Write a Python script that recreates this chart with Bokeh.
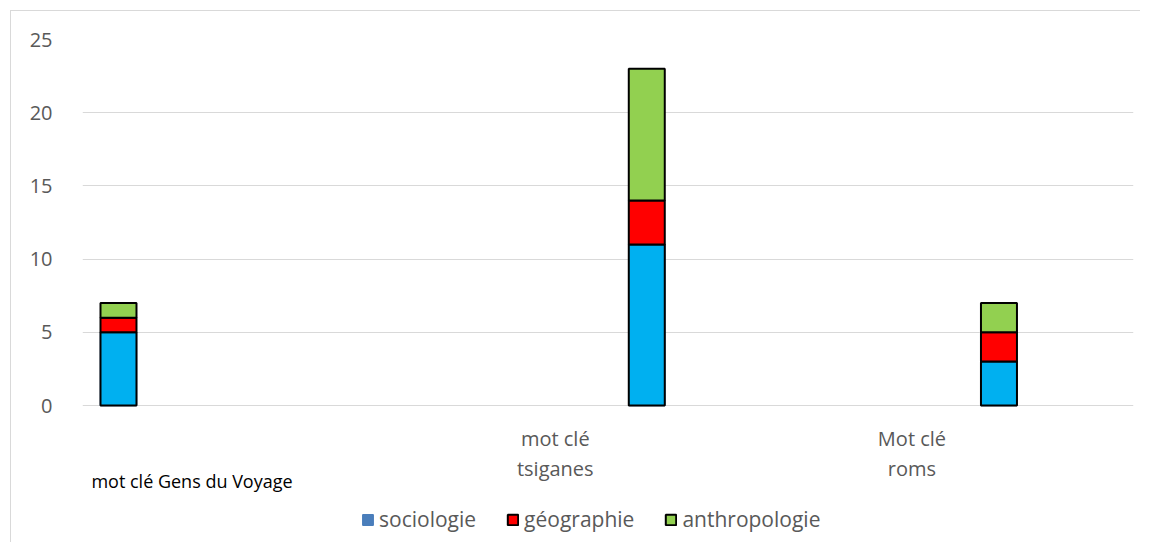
from bokeh.plotting import figure
from bokeh.models import Range1d, Legend, LegendItem, Label, FixedTicker, ColumnDataSource
from bokeh.embed import file_html
from bokeh.resources import INLINE

# ---- data ----
categories = ["mot clé Gens du Voyage", "mot clé\ntsiganes", "Mot clé\nroms"]
slots = [0, 3, 5]            # category slot on the horizontal axis
series = ["sociologie", "géographie", "anthropologie"]
sociologie = [5, 11, 3]
geographie = [1, 3, 2]
anthropologie = [1, 9, 2]
y_ticks = [0, 5, 10, 15, 20, 25]

colors = ["#00b0f0", "#ff0000", "#92d050"]
legend_colors = ["#4a7ebb", "#ff0000", "#92d050"]
FONT = "Open Sans"

source = ColumnDataSource(dict(x=slots, sociologie=sociologie,
                               geographie=geographie, anthropologie=anthropologie))

# the frame reaches the bottom of the canvas so that category labels and legend are not clipped
p = figure(width=1130, height=532, output_backend="svg", toolbar_location=None,
           x_range=Range1d(-0.2044, 5.764), y_range=Range1d(-9.426, 25),
           min_border_left=71, min_border_right=8, min_border_top=28, min_border_bottom=0)
p.styles = {"border-left": "1px solid #d9d9d9", "border-top": "1px solid #d9d9d9",
            "margin-left": "10px", "margin-top": "10px"}
p.outline_line_color = None
p.background_fill_color = "white"
p.border_fill_color = "white"

# legend-only swatch for sociologie (its legend colour differs); hidden under the real bars
legend_soc = p.vbar(x="x", top="sociologie", source=source, width=0.2044,
                    fill_color=legend_colors[0], line_color=legend_colors[0], line_width=1.5)

renderers = p.vbar_stack(["sociologie", "geographie", "anthropologie"], x="x", width=0.2044,
                         source=source, fill_color=colors, line_color="black", line_width=2)

p.xaxis.visible = False
p.xgrid.visible = False
p.ygrid.grid_line_color = "#d9d9d9"
p.ygrid.grid_line_width = 1

ya = p.yaxis[0]
ya.ticker = FixedTicker(ticks=y_ticks)
ya.axis_line_color = None
ya.major_tick_line_color = None
ya.minor_tick_line_color = None
ya.major_tick_out = 0
ya.major_tick_in = 0
ya.major_label_standoff = 30
ya.major_label_text_font = FONT
ya.major_label_text_font_size = "20px"
ya.major_label_text_color = "#595959"

# category labels (y in screen px above the frame bottom)
offsets = [(73.5, 63, "black", "18px"), (-91.5, 90, "#595959", "20px"), (-87, 90, "#595959", "20px")]
for cat, sx, (dx, sy, col, fs) in zip(categories, slots, offsets):
    p.add_layout(Label(x=sx, y=sy, y_units="screen", x_offset=dx, text=cat,
                       text_align="center", text_baseline="middle",
                       text_font=FONT, text_font_size=fs, text_color=col,
                       text_line_height=1.12))

legend = Legend(items=[LegendItem(label=series[0], renderers=[legend_soc]),
                       LegendItem(label=series[1], renderers=[renderers[1]]),
                       LegendItem(label=series[2], renderers=[renderers[2]])],
                location=(279, 10), orientation="horizontal")
legend.label_text_font = FONT
legend.label_text_font_size = "21px"
legend.label_text_color = "#595959"
legend.glyph_width = 13
legend.glyph_height = 13
legend.label_standoff = 5
legend.spacing = 30
legend.padding = 0
legend.margin = 0
legend.border_line_color = None
legend.background_fill_alpha = 0
legend.label_height = 20
p.add_layout(legend, "center")

open("out.html", "w").write(file_html(p, INLINE))
